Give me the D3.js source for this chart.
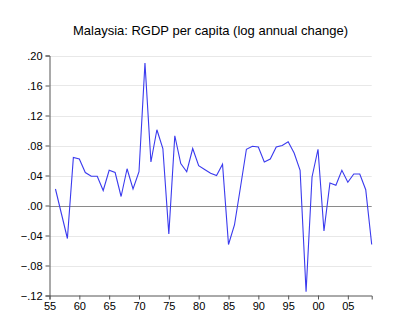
<!DOCTYPE html>
<html>
<head>
<meta charset="utf-8">
<script src="https://cdn.jsdelivr.net/npm/d3@7"></script>
<style>
  body { margin: 0; background: #fff; }
  svg { display: block; font-family: "Liberation Sans", Arial, sans-serif; }
</style>
</head>
<body>
<div id="chart"></div>
<script>
var years = d3.range(1956, 2010);
var growth = [
  0.022, -0.011, -0.044, 0.064, 0.062, 0.044, 0.039, 0.039, 0.020, 0.047,
  0.044, 0.012, 0.049, 0.022, 0.045, 0.190, 0.058, 0.101, 0.076, -0.038,
  0.093, 0.056, 0.045, 0.076, 0.053, 0.048, 0.043, 0.040, 0.055, -0.052,
  -0.026, 0.024, 0.075, 0.079, 0.078, 0.058, 0.062, 0.078, 0.080, 0.085,
  0.070, 0.047, -0.115, 0.038, 0.075, -0.034, 0.030, 0.027, 0.047, 0.031,
  0.042, 0.042, 0.021, -0.052
];
var yTicks = [-0.12, -0.08, -0.04, 0.00, 0.04, 0.08, 0.12, 0.16, 0.20];
var xTicks = [1955, 1960, 1965, 1970, 1975, 1980, 1985, 1990, 1995, 2000, 2005];
var title = "Malaysia: RGDP per capita (log annual change)";

var W = 400, H = 336;
var svg = d3.select("#chart").append("svg")
    .attr("width", W)
    .attr("height", H);

var x = d3.scaleLinear().domain([1955, 2009]).range([49.5, 371.7]);
var y = d3.scaleLinear().domain([-0.12, 0.20]).range([295.5, 55.5]);

// grid lines
svg.append("g")
  .selectAll("line")
  .data(yTicks.filter(function(d) { return d !== 0 && d !== -0.12; }))
  .join("line")
    .attr("x1", x(1955)).attr("x2", x(2009))
    .attr("y1", function(d) { return Math.round(y(d)) + 0.5; })
    .attr("y2", function(d) { return Math.round(y(d)) + 0.5; })
    .attr("stroke", "#e8e8e8")
    .attr("stroke-width", 1);

// zero line
svg.append("line")
    .attr("x1", x(1955)).attr("x2", x(2009))
    .attr("y1", Math.round(y(0)) + 0.5)
    .attr("y2", Math.round(y(0)) + 0.5)
    .attr("stroke", "#8a8a8a")
    .attr("stroke-width", 1);

var fmtY = function(d) {
  var s = d3.format(".2f")(d);
  return s.replace("0.", ".");
};

var yAxis = svg.append("g")
    .attr("transform", "translate(" + x(1955) + ",0)")
    .call(d3.axisLeft(y).tickValues(yTicks).tickFormat(fmtY).tickSize(4).tickPadding(3));

var xAxis = svg.append("g")
    .attr("transform", "translate(0," + y(-0.12) + ")")
    .call(d3.axisBottom(x).tickValues(xTicks)
      .tickFormat(function(d) { return d3.format("02d")(d % 100); })
      .tickSize(4).tickPadding(3));

[yAxis, xAxis].forEach(function(g) {
  g.select(".domain").attr("stroke", "#555");
  g.selectAll(".tick line").attr("stroke", "#555");
  g.selectAll("text")
    .attr("fill", "#000")
    .style("font-family", "Liberation Sans, Arial, sans-serif")
    .style("font-size", "11px");
});

// the series
var line = d3.line()
    .x(function(d, i) { return x(years[i]); })
    .y(function(d) { return y(d); });

svg.append("path")
    .datum(growth)
    .attr("d", line)
    .attr("fill", "none")
    .attr("stroke", "#3a3aee")
    .attr("stroke-width", 1.1);

svg.append("text")
    .attr("x", 210.5)
    .attr("y", 35)
    .attr("text-anchor", "middle")
    .style("font-size", "13px")
    .attr("fill", "#000")
    .text(title);
</script>
</body>
</html>
